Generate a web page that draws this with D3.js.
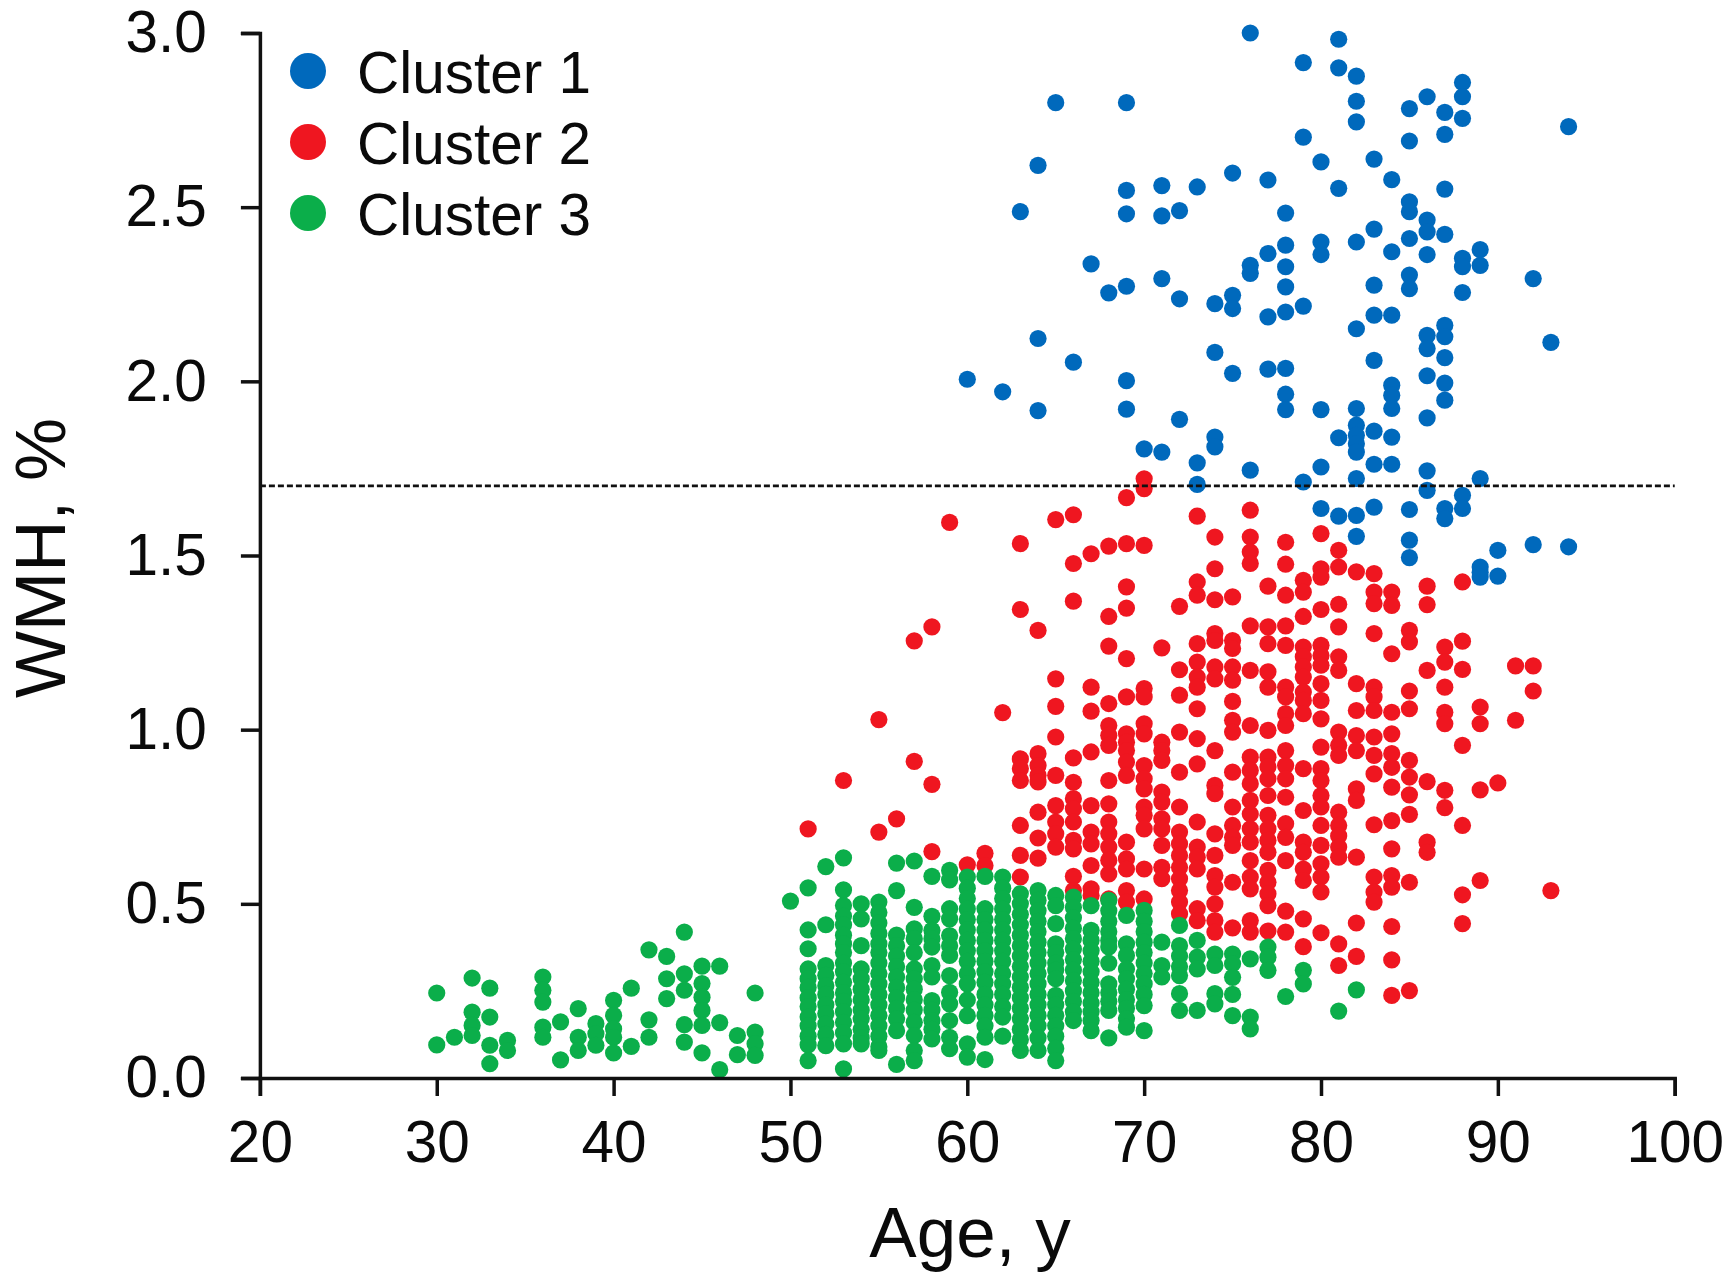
<!DOCTYPE html>
<html><head><meta charset="utf-8">
<script src="https://cdn.jsdelivr.net/npm/d3@7"></script>
<style>html,body{margin:0;background:#fff}svg{display:block}text{font-family:"Liberation Sans",Arial,sans-serif;fill:#0a0a0a}</style>
</head><body><svg id="c" width="1724" height="1279"></svg>
<script>
const seriesNames = ["Cluster 1","Cluster 2","Cluster 3"];
const seriesColors = ["#0069BC","#EF1620","#0BAE4A"];
const xTicks = [20,30,40,50,60,70,80,90,100];
const yTicks = [0,0.5,1,1.5,2,2.5,3];
const threshold = 1.7;

const cluster1 = [
[60,[2.006]],[62,[1.97]],[63,[2.487]],[64,[2.62,2.123,1.916]],[65,[2.80]],[66,[2.055]],[67,[2.337]],[68,[2.254]],
[69,[2.80,2.548,2.481,2.273,2.002,1.92]],[70,[1.806]],[71,[2.562,2.475,2.295,1.797]],[72,[2.49,2.237,1.891]],
[73,[2.558,1.766,1.704]],[74,[2.223,2.083,1.84,1.812]],[75,[2.598,2.247,2.209,2.023]],[76,[3.0,2.333,2.31,1.745]],
[77,[2.578,2.367,2.185,2.035]],[78,[2.483,2.391,2.329,2.271,2.199,2.037,1.963,1.919]],[79,[2.915,2.701,2.216,1.711]],
[80,[2.63,2.40,2.364,1.919,1.754,1.635]],[81,[2.982,2.9,2.554,1.838,1.613]],
[82,[2.876,2.804,2.745,2.40,2.151,1.922,1.874,1.845,1.821,1.797,1.721,1.615,1.555]],
[83,[2.638,2.437,2.276,2.19,2.06,1.857,1.762,1.639]],[84,[2.579,2.372,2.19,1.989,1.96,1.922,1.84,1.762]],
[85,[2.783,2.69,2.515,2.487,2.41,2.305,2.266,1.632,1.544,1.494]],
[86,[2.817,2.463,2.429,2.364,2.132,2.094,2.016,1.895,1.743,1.687]],
[87,[2.772,2.709,2.552,2.422,2.161,2.128,2.068,1.995,1.946,1.635,1.606]],
[88,[2.858,2.817,2.755,2.353,2.329,2.255,1.673,1.635]],[89,[2.378,2.333,1.721,1.467,1.452,1.438]],
[90,[1.515,1.441]],[92,[2.295,1.531]],[93,[2.112]],[94,[2.731,1.525]]
];

const cluster2 = [
[51,[.715]],[53,[.854]],[55,[1.029,.706]],[56,[.744]],[57,[1.255,.909]],[58,[1.295,.843,.65]],[59,[1.595]],[60,[.612]],[61,[.645,.61]],
[62,[1.049]],[63,[1.534,1.345,.916,.888,.854,.725,.639,.577]],[64,[1.285,.931,.897,.869,.85,.763,.689,.631]],
[65,[1.603,1.146,1.067,.979,.869,.782,.735,.701,.663]],[66,[1.617,1.477,1.369,.919,.849,.802,.773,.735,.682,.658,.579,.538]],
[67,[1.505,1.122,1.053,.936,.782,.706,.672,.61,.543,.524]],
[68,[1.527,1.325,1.24,1.075,1.012,.984,.955,.854,.787,.735,.701,.663,.625,.586,.514]],
[69,[1.666,1.534,1.41,1.349,1.204,1.094,.988,.964,.94,.907,.869,.677,.629,.6,.538,.505]],
[70,[1.72,1.692,1.529,1.118,1.094,1.017,.988,.897,.859,.83,.778,.754,.715,.6,.514]],
[71,[1.235,.964,.94,.912,.821,.792,.744,.715,.668,.605,.572]],
[72,[1.354,1.172,1.099,.993,.878,.778,.706,.672,.639,.605,.572,.538,.505,.471]],
[73,[1.613,1.424,1.386,1.247,1.194,1.151,1.122,1.06,.974,.902,.735,.663,.634,.6,.486,.452]],
[74,[1.553,1.462,1.373,1.276,1.256,1.18,1.146,.94,.84,.816,.701,.639,.581,.548,.5,.452,.419]],
[75,[1.381,1.256,1.233,1.18,1.142,1.081,1.027,.993,.878,.778,.725,.691,.668,.562,.431]],
[76,[1.63,1.553,1.51,1.477,1.298,1.17,1.012,.921,.883,.845,.797,.758,.715,.677,.624,.577,.543,.452,.419]],
[77,[1.412,1.295,1.247,1.166,1.122,.998,.921,.893,.859,.811,.754,.715,.682,.648,.596,.562,.529,.495,.422]],
[78,[1.538,1.475,1.386,1.298,1.242,1.122,1.094,1.046,1.012,.94,.897,.859,.806,.73,.691,.624,.479,.419]],
[79,[1.429,1.395,1.325,1.237,1.209,1.18,1.151,1.108,1.084,1.046,.888,.768,.677,.648,.6,.567,.457,.377]],
[80,[1.563,1.462,1.438,1.345,1.242,1.213,1.185,1.132,1.084,1.031,.95,.888,.854,.811,.778,.725,.668,.615,.577,.534,.417]],
[81,[1.515,1.467,1.36,1.295,1.209,1.17,.993,.955,.926,.763,.725,.695,.663,.634,.385,.323]],
[82,[1.453,1.132,1.055,.983,.94,.83,.797,.634,.445,.349]],
[83,[1.448,1.395,1.362,1.276,1.122,1.094,1.055,.979,.926,.873,.727,.577,.534,.505]],
[84,[1.395,1.357,1.218,1.05,.988,.931,.892,.835,.739,.658,.581,.548,.435,.339,.237]],
[85,[1.285,1.252,1.111,1.06,.912,.864,.813,.757,.562,.251]],[86,[1.412,1.359,1.17,.851,.677,.648]],
[87,[1.237,1.194,1.122,1.05,1.017,.826,.776]],[88,[1.424,1.254,1.173,.955,.725,.526,.443]],
[89,[1.065,1.017,.827,.567]],[90,[.847]],[91,[1.183,1.027]],[92,[1.183,1.111]],[93,[.538]]
];

const cluster3 = [
[30,[.244,.095]],[31,[.117]],[32,[.287,.189,.151,.122]],[33,[.258,.175,.094,.041]],[34,[.108,.079]],
[36,[.29,.252,.218,.146,.117]],[37,[.161,.052]],[38,[.199,.117,.079]],[39,[.156,.127,.094]],
[40,[.223,.18,.141,.117,.072]],[41,[.258,.091]],[42,[.368,.167,.117]],[43,[.349,.285,.228]],
[44,[.419,.299,.252,.153,.103]],[45,[.321,.271,.232,.194,.151,.072]],[46,[.321,.159,.024]],[47,[.122,.067]],
[48,[.244,.132,.098,.065]],[50,[.508]],
[51,[.546,.425,.371,.313,.285,.26,.23,.205,.175,.15,.12,.095,.05]],
[52,[.607,.44,.323,.295,.265,.24,.21,.185,.155,.125,.093]],
[53,[.632,.54,.495,.465,.44,.41,.385,.36,.33,.305,.275,.245,.22,.19,.16,.13,.098,.026]],
[54,[.5,.457,.38,.313,.285,.255,.225,.195,.17,.14,.115,.098]],
[55,[.505,.475,.445,.415,.385,.36,.33,.3,.27,.24,.21,.18,.15,.12,.09,.079]],
[56,[.617,.538,.41,.38,.35,.32,.29,.26,.23,.2,.17,.136,.039]],
[57,[.623,.49,.428,.4,.36,.313,.285,.255,.225,.195,.16,.122,.079,.05]],
[58,[.579,.464,.424,.4,.376,.323,.29,.222,.195,.165,.14,.112]],
[59,[.596,.569,.486,.457,.409,.38,.352,.294,.246,.213,.165,.117,.084]],
[60,[.577,.545,.515,.485,.455,.425,.395,.365,.335,.3,.27,.224,.179,.098,.06]],
[61,[.579,.486,.455,.425,.395,.365,.335,.305,.275,.24,.21,.18,.15,.117,.053]],
[62,[.577,.545,.515,.485,.455,.425,.395,.365,.335,.3,.27,.24,.205,.175,.12]],
[63,[.529,.5,.47,.44,.41,.38,.35,.32,.29,.26,.23,.2,.17,.14,.11,.079]],
[64,[.538,.51,.48,.45,.42,.39,.36,.33,.3,.27,.24,.21,.18,.15,.115,.079]],
[65,[.524,.495,.443,.385,.36,.33,.31,.285,.237,.21,.18,.15,.12,.085,.05]],
[66,[.519,.49,.46,.43,.4,.37,.34,.31,.28,.25,.22,.19,.165]],
[67,[.495,.424,.395,.365,.335,.305,.275,.245,.215,.19,.165,.136]],
[68,[.51,.48,.45,.42,.395,.376,.33,.27,.245,.22,.194,.115]],
[69,[.467,.385,.352,.313,.285,.255,.225,.2,.17,.146]],
[70,[.481,.45,.42,.39,.36,.33,.3,.27,.24,.208,.136]],
[71,[.39,.323,.29]],[72,[.438,.38,.35,.32,.294,.242,.194]],[73,[.395,.347,.313,.194]],[74,[.356,.323,.242,.213]],
[75,[.356,.328,.289,.24,.179]],[76,[.342,.175,.141]],[77,[.376,.347,.309]],[78,[.234]],[79,[.309,.27]],[81,[.192]],[82,[.253]]
];

const clusters = [cluster1, cluster2, cluster3];
const svg = d3.select("#c");
const x = d3.scaleLinear().domain([20,100]).range([259.9,1674.7]);
const y = d3.scaleLinear().domain([0,3]).range([1078,33]);
const FONT = 58.5;

clusters.forEach((c,i)=>{
  const pts = c.flatMap(([age,vals])=>vals.map(v=>[age,v]));
  svg.append("g").selectAll("circle").data(pts).join("circle")
    .attr("cx",d=>x(d[0])).attr("cy",d=>y(d[1])).attr("r",8.6).attr("fill",seriesColors[i]);
});

svg.append("line").attr("x1",x(20)).attr("x2",x(100)).attr("y1",y(threshold)).attr("y2",y(threshold))
  .attr("stroke","#111").attr("stroke-width",2.6).attr("stroke-dasharray","6,3");

const xa = svg.append("g").attr("transform",`translate(0,${y(0)})`)
  .call(d3.axisBottom(x).tickValues(xTicks).tickSize(18).tickPadding(24).tickFormat(d3.format("d")));
const ya = svg.append("g").attr("transform",`translate(${x(20)},0)`)
  .call(d3.axisLeft(y).tickValues(yTicks).tickSize(19).tickPadding(34).tickFormat(d3.format(".1f")));
[xa,ya].forEach(a=>{
  a.selectAll("path").attr("stroke","#111").attr("stroke-width",3.5);
  a.selectAll("line").attr("stroke","#111").attr("stroke-width",3.5);
  a.selectAll("text").style("font-size",FONT+"px").style("font-family",'"Liberation Sans"').attr("fill","#0a0a0a");
});

svg.append("text").attr("x",970).attr("y",1257).attr("text-anchor","middle").style("font-size","71px").text("Age, y");
svg.append("text").attr("transform","translate(65,558) rotate(-90)").attr("text-anchor","middle").style("font-size","71px").text("WMH, %");

const legendY = d3.scalePoint().domain(seriesNames).range([71,213]);
seriesNames.forEach((n,i)=>{
  svg.append("circle").attr("cx",308).attr("cy",legendY(n)).attr("r",18).attr("fill",seriesColors[i]);
  svg.append("text").attr("x",357).attr("y",legendY(n)+22).style("font-size",FONT+"px").text(n);
});
</script></body></html>
